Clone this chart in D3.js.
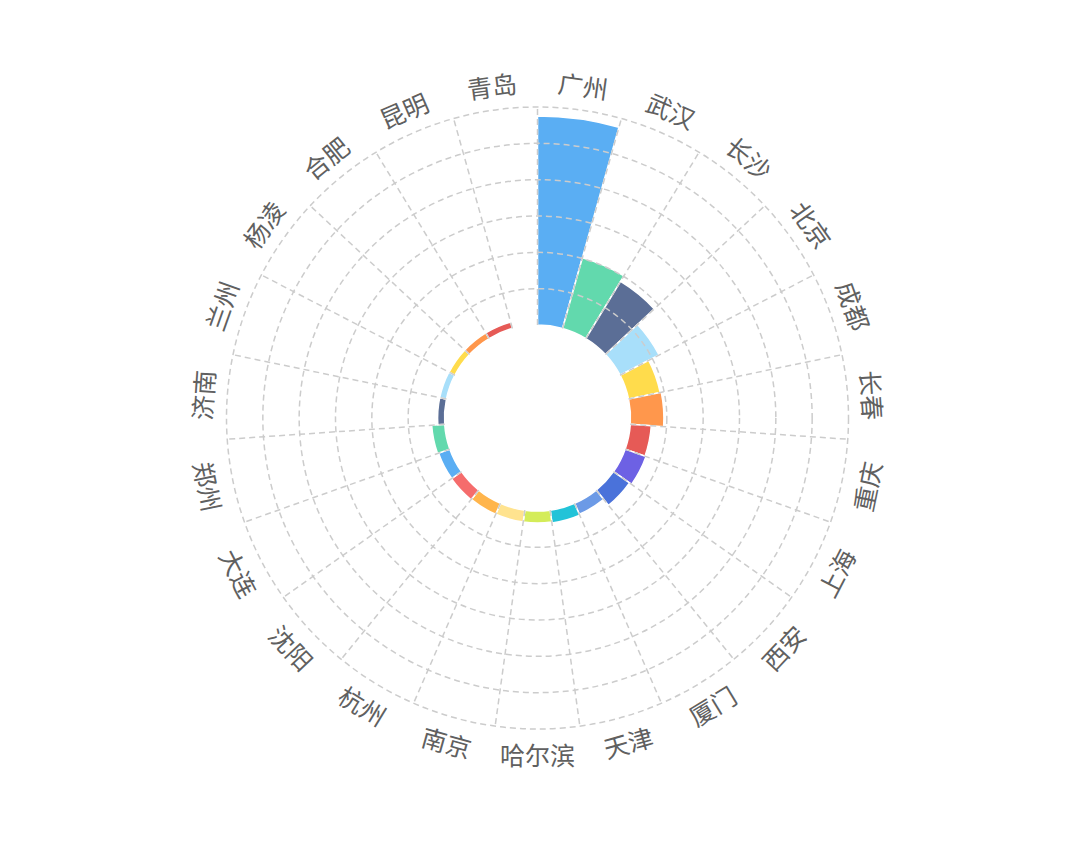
<!DOCTYPE html>
<html lang="zh">
<head>
<meta charset="UTF-8">
<title>城市极坐标柱状图</title>
<script src="https://d3js.org/d3.v7.min.js"></script>
<style>
  html, body { margin: 0; padding: 0; background: #fff; }
  svg { display: block; }
</style>
</head>
<body>
<svg id="chart"></svg>
<script>
// 城市（从正上方开始顺时针）
const cities = ["广州", "武汉", "长沙", "北京", "成都", "长春", "重庆", "上海", "西安", "厦门",
                "天津", "哈尔滨", "南京", "杭州", "沈阳", "大连", "郑州", "济南", "兰州", "杨凌",
                "合肥", "昆明", "青岛"];
const values = [575, 202, 184, 121, 89, 92, 58, 61, 54, 33,
                36, 33, 33, 33, 34, 33, 36, 19, 19, 18,
                18, 18, 0];
const radiusTicks = [0, 100, 200, 300, 400, 500, 600];
const palette = ["#5AAEF3", "#62D9AD", "#5B6E96", "#A8DFFA", "#FFDC4C", "#FF974C", "#E65A56",
                 "#6D61E4", "#4A72DA", "#6C9AE6", "#22C3D8", "#D4EC59", "#FFE38F", "#FFB54C", "#F56C6C"];

const width = 1080;
const height = 846;
const cx = 537.5;
const cy = 418;
const innerR = 93;
const outerR = 311;

const svg = d3.select("#chart").attr("width", width).attr("height", height);
const g = svg.append("g").attr("transform", `translate(${cx},${cy})`);

// angle = une bande par ville, rayon linéaire
const x = d3.scaleBand().domain(cities).range([0, 2 * Math.PI]).paddingInner(0).paddingOuter(0);
const y = d3.scaleLinear().domain([radiusTicks[0], radiusTicks[radiusTicks.length - 1]]).range([innerR, outerR]);

const arc = d3.arc()
    .innerRadius(innerR)
    .outerRadius(d => y(d.value))
    .startAngle(d => x(d.city))
    .endAngle(d => x(d.city) + x.bandwidth());

const data = cities.map((c, i) => ({ city: c, value: values[i], color: palette[i % palette.length] }));

// barres
g.selectAll(".bar")
  .data(data.filter(d => d.value > 0))
  .enter().append("path")
  .attr("class", "bar")
  .attr("d", arc)
  .attr("fill", d => d.color)
  .attr("stroke", "#fff")
  .attr("stroke-width", 1.5);

// cercles du rayon
g.selectAll(".ring")
  .data(radiusTicks.slice(1))
  .enter().append("circle")
  .attr("class", "ring")
  .attr("r", d => y(d))
  .attr("fill", "none")
  .attr("stroke", "#cccccc")
  .attr("stroke-width", 1.5)
  .attr("stroke-dasharray", "6 4");

// rayons entre les villes
g.selectAll(".spoke")
  .data(cities)
  .enter().append("line")
  .attr("class", "spoke")
  .attr("x1", d => innerR * Math.sin(x(d)))
  .attr("y1", d => -innerR * Math.cos(x(d)))
  .attr("x2", d => outerR * Math.sin(x(d)))
  .attr("y2", d => -outerR * Math.cos(x(d)))
  .attr("stroke", "#cccccc")
  .attr("stroke-width", 1.5)
  .attr("stroke-dasharray", "6 4");

// étiquettes tournées
const labelR = outerR + 25;
g.selectAll(".label")
  .data(cities)
  .enter().append("text")
  .attr("class", "label")
  .attr("transform", d => {
    const a = x(d) + x.bandwidth() / 2;
    const deg = a * 180 / Math.PI;
    const rot = (deg > 90 && deg < 270) ? deg - 180 : deg;
    return `translate(${labelR * Math.sin(a)},${-labelR * Math.cos(a)}) rotate(${rot})`;
  })
  .attr("text-anchor", "middle")
  .attr("dominant-baseline", "central")
  .attr("font-family", "'Noto Sans CJK SC', 'Noto Sans', sans-serif")
  .attr("font-size", "25px")
  .attr("fill", "#606060")
  .text(d => d);
</script>
</body>
</html>
